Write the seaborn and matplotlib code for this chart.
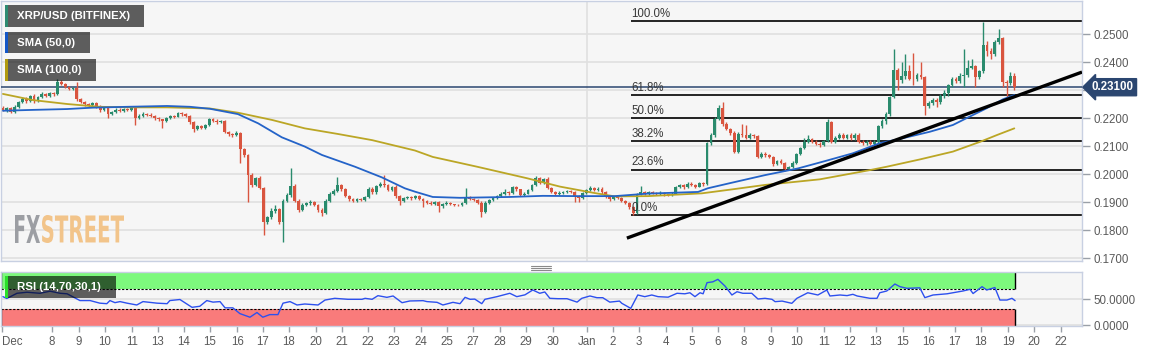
import numpy as np
import pandas as pd
import matplotlib
matplotlib.use('Agg')
import matplotlib.pyplot as plt
import matplotlib.transforms as mtransforms
import seaborn as sns
from matplotlib.patches import Rectangle, PathPatch
from matplotlib.lines import Line2D
from matplotlib.textpath import TextPath
from matplotlib.font_manager import FontProperties
from matplotlib.transforms import Affine2D

# ---- data (4h candles, XRP/USD) ----
open0 = 0.2236
closes = [
    0.2228, 0.2236, 0.2222, 0.2240, 0.2258, 0.2268,
    0.2262, 0.2278, 0.2260, 0.2275, 0.2286, 0.2280,
    0.2290, 0.2285, 0.2328, 0.2322, 0.2312, 0.2305,
    0.2306, 0.2268, 0.2258, 0.2250, 0.2245, 0.2252,
    0.2240, 0.2228, 0.2236, 0.2215, 0.2222, 0.2230,
    0.2225, 0.2232, 0.2228, 0.2236, 0.2200, 0.2208,
    0.2215, 0.2212, 0.2208, 0.2200, 0.2195, 0.2188,
    0.2200, 0.2208, 0.2205, 0.2218, 0.2214, 0.2208,
    0.2185, 0.2160, 0.2170, 0.2165, 0.2176, 0.2195,
    0.2190, 0.2186, 0.2190, 0.2150, 0.2142, 0.2140,
    0.2148, 0.2090, 0.2068, 0.1998, 0.1962, 0.1985,
    0.1950, 0.1828, 0.1845, 0.1868, 0.1875, 0.1828,
    0.1905, 0.1925, 0.1958, 0.1905, 0.1872, 0.1890,
    0.1895, 0.1900, 0.1888, 0.1872, 0.1862, 0.1905,
    0.1930, 0.1940, 0.1960, 0.1945, 0.1922, 0.1912,
    0.1905, 0.1912, 0.1908, 0.1918, 0.1948, 0.1935,
    0.1958, 0.1966, 0.1960, 0.1942, 0.1952, 0.1920,
    0.1905, 0.1915, 0.1918, 0.1914, 0.1920, 0.1910,
    0.1902, 0.1898, 0.1893, 0.1900, 0.1885, 0.1892,
    0.1897, 0.1892, 0.1890, 0.1888, 0.1896, 0.1918,
    0.1912, 0.1906, 0.1898, 0.1864, 0.1898, 0.1908,
    0.1915, 0.1922, 0.1930, 0.1935, 0.1932, 0.1952,
    0.1945, 0.1925, 0.1930, 0.1942, 0.1960, 0.1985,
    0.1968, 0.1982, 0.1950, 0.1936, 0.1930, 0.1933,
    0.1936, 0.1940, 0.1936, 0.1920, 0.1914, 0.1932,
    0.1942, 0.1950, 0.1943, 0.1948, 0.1935, 0.1920,
    0.1910, 0.1918, 0.1914, 0.1905, 0.1898, 0.1882,
    0.1862, 0.1928, 0.1936, 0.1930, 0.1936, 0.1932,
    0.1930, 0.1933, 0.1927, 0.1925, 0.1930, 0.1954,
    0.1960, 0.1952, 0.1966, 0.1960, 0.1955, 0.1968,
    0.1964, 0.2111, 0.2140, 0.2198, 0.2236, 0.2178,
    0.2160, 0.2148, 0.2080, 0.2144, 0.2138, 0.2130,
    0.2140, 0.2134, 0.2062, 0.2072, 0.2068, 0.2062,
    0.2036, 0.2046, 0.2038, 0.2018, 0.2024, 0.2040,
    0.2072, 0.2094, 0.2114, 0.2125, 0.2116, 0.2108,
    0.2104, 0.2118, 0.2184, 0.2116, 0.2130, 0.2140,
    0.2130, 0.2140, 0.2127, 0.2140, 0.2116, 0.2110,
    0.2116, 0.2108, 0.2116, 0.2172, 0.2190, 0.2215,
    0.2276, 0.2370, 0.2336, 0.2350, 0.2368, 0.2340,
    0.2338, 0.2355, 0.2346, 0.2242, 0.2254, 0.2264,
    0.2256, 0.2278, 0.2290, 0.2318, 0.2340, 0.2332,
    0.2350, 0.2352, 0.2380, 0.2384, 0.2345, 0.2368,
    0.2462, 0.2440, 0.2428, 0.2470, 0.2484, 0.2330,
    0.2324, 0.2350, 0.2310,
]
highs = [
    0.2242, 0.2240, 0.2240, 0.2246, 0.2262, 0.2275,
    0.2274, 0.2282, 0.2284, 0.2280, 0.2292, 0.2290,
    0.2294, 0.2293, 0.2339, 0.2334, 0.2326, 0.2316,
    0.2312, 0.2328, 0.2272, 0.2262, 0.2254, 0.2258,
    0.2256, 0.2245, 0.2240, 0.2240, 0.2226, 0.2234,
    0.2234, 0.2236, 0.2236, 0.2240, 0.2240, 0.2214,
    0.2222, 0.2218, 0.2218, 0.2212, 0.2204, 0.2198,
    0.2204, 0.2212, 0.2212, 0.2222, 0.2222, 0.2218,
    0.2212, 0.2190, 0.2175, 0.2176, 0.2180, 0.2200,
    0.2200, 0.2196, 0.2194, 0.2194, 0.2154, 0.2148,
    0.2155, 0.2150, 0.2094, 0.2072, 0.2004, 0.1990,
    0.1992, 0.1955, 0.1850, 0.1878, 0.1890, 0.1880,
    0.1910, 0.1932, 0.2021, 0.1965, 0.1910, 0.1896,
    0.1900, 0.1906, 0.1904, 0.1892, 0.1878, 0.1910,
    0.1935, 0.1948, 0.1989, 0.1965, 0.1950, 0.1926,
    0.1916, 0.1916, 0.1916, 0.1922, 0.1954, 0.1952,
    0.1962, 0.1972, 0.1996, 0.1964, 0.1956, 0.1960,
    0.1924, 0.1918, 0.1922, 0.1922, 0.1925, 0.1924,
    0.1914, 0.1906, 0.1902, 0.1904, 0.1904, 0.1896,
    0.1902, 0.1900, 0.1894, 0.1893, 0.1900, 0.1950,
    0.1922, 0.1916, 0.1910, 0.1902, 0.1902, 0.1912,
    0.1918, 0.1926, 0.1936, 0.1946, 0.1940, 0.1956,
    0.1956, 0.1948, 0.1934, 0.1946, 0.1964, 0.1992,
    0.1990, 0.1986, 0.1988, 0.1954, 0.1940, 0.1938,
    0.1940, 0.1944, 0.1944, 0.1940, 0.1924, 0.1936,
    0.1946, 0.1957, 0.1954, 0.1954, 0.1952, 0.1938,
    0.1924, 0.1922, 0.1922, 0.1918, 0.1908, 0.1900,
    0.1886, 0.1932, 0.1957, 0.1940, 0.1940, 0.1940,
    0.1936, 0.1938, 0.1936, 0.1930, 0.1934, 0.1958,
    0.1964, 0.1964, 0.1970, 0.1970, 0.1964, 0.1972,
    0.1972, 0.2115, 0.2146, 0.2204, 0.2246, 0.2257,
    0.2186, 0.2164, 0.2152, 0.2150, 0.2180, 0.2175,
    0.2146, 0.2142, 0.2140, 0.2078, 0.2078, 0.2072,
    0.2066, 0.2050, 0.2052, 0.2044, 0.2030, 0.2045,
    0.2076, 0.2098, 0.2128, 0.2138, 0.2130, 0.2120,
    0.2114, 0.2122, 0.2196, 0.2190, 0.2136, 0.2146,
    0.2145, 0.2144, 0.2146, 0.2146, 0.2146, 0.2120,
    0.2120, 0.2120, 0.2122, 0.2176, 0.2196, 0.2222,
    0.2280, 0.2446, 0.2378, 0.2400, 0.2428, 0.2390,
    0.2432, 0.2362, 0.2400, 0.2350, 0.2262, 0.2272,
    0.2270, 0.2286, 0.2300, 0.2322, 0.2346, 0.2346,
    0.2360, 0.2446, 0.2407, 0.2410, 0.2390, 0.2372,
    0.2543, 0.2476, 0.2450, 0.2480, 0.2518, 0.2490,
    0.2334, 0.2364, 0.2362,
]
lows = [
    0.2224, 0.2222, 0.2218, 0.2219, 0.2236, 0.2252,
    0.2255, 0.2258, 0.2254, 0.2256, 0.2270, 0.2276,
    0.2276, 0.2280, 0.2282, 0.2318, 0.2308, 0.2300,
    0.2300, 0.2262, 0.2252, 0.2244, 0.2238, 0.2240,
    0.2236, 0.2222, 0.2224, 0.2200, 0.2210, 0.2218,
    0.2220, 0.2220, 0.2224, 0.2225, 0.2175, 0.2196,
    0.2204, 0.2206, 0.2202, 0.2194, 0.2190, 0.2164,
    0.2184, 0.2196, 0.2200, 0.2202, 0.2208, 0.2204,
    0.2180, 0.2150, 0.2156, 0.2160, 0.2160, 0.2172,
    0.2186, 0.2180, 0.2182, 0.2145, 0.2136, 0.2132,
    0.2134, 0.2039, 0.2060, 0.1900, 0.1955, 0.1958,
    0.1945, 0.1782, 0.1822, 0.1838, 0.1860, 0.1822,
    0.1757, 0.1900, 0.1918, 0.1900, 0.1865, 0.1868,
    0.1884, 0.1890, 0.1884, 0.1866, 0.1850, 0.1858,
    0.1900, 0.1925, 0.1936, 0.1940, 0.1918, 0.1905,
    0.1900, 0.1900, 0.1904, 0.1904, 0.1914, 0.1930,
    0.1930, 0.1954, 0.1955, 0.1938, 0.1938, 0.1915,
    0.1889, 0.1900, 0.1910, 0.1908, 0.1910, 0.1906,
    0.1882, 0.1894, 0.1888, 0.1888, 0.1864, 0.1880,
    0.1888, 0.1888, 0.1886, 0.1884, 0.1884, 0.1892,
    0.1908, 0.1902, 0.1894, 0.1846, 0.1860, 0.1894,
    0.1904, 0.1912, 0.1918, 0.1926, 0.1925, 0.1928,
    0.1940, 0.1920, 0.1922, 0.1928, 0.1938, 0.1956,
    0.1964, 0.1964, 0.1946, 0.1932, 0.1926, 0.1926,
    0.1928, 0.1932, 0.1932, 0.1900, 0.1900, 0.1910,
    0.1928, 0.1938, 0.1938, 0.1938, 0.1930, 0.1915,
    0.1905, 0.1906, 0.1910, 0.1900, 0.1892, 0.1876,
    0.1854, 0.1858, 0.1924, 0.1926, 0.1926, 0.1928,
    0.1925, 0.1926, 0.1922, 0.1920, 0.1922, 0.1928,
    0.1950, 0.1948, 0.1950, 0.1956, 0.1950, 0.1952,
    0.1958, 0.1960, 0.2105, 0.2132, 0.2194, 0.2172,
    0.2156, 0.2140, 0.2074, 0.2076, 0.2132, 0.2126,
    0.2126, 0.2130, 0.2058, 0.2056, 0.2062, 0.2056,
    0.2030, 0.2032, 0.2034, 0.2010, 0.2014, 0.2020,
    0.2036, 0.2068, 0.2090, 0.2110, 0.2110, 0.2102,
    0.2098, 0.2100, 0.2114, 0.2110, 0.2112, 0.2126,
    0.2124, 0.2126, 0.2122, 0.2122, 0.2110, 0.2104,
    0.2104, 0.2102, 0.2104, 0.2110, 0.2164, 0.2180,
    0.2208, 0.2270, 0.2300, 0.2325, 0.2340, 0.2334,
    0.2318, 0.2332, 0.2340, 0.2211, 0.2236, 0.2248,
    0.2240, 0.2250, 0.2272, 0.2280, 0.2312, 0.2326,
    0.2326, 0.2310, 0.2346, 0.2374, 0.2310, 0.2340,
    0.2360, 0.2420, 0.2410, 0.2422, 0.2465, 0.2310,
    0.2271, 0.2318, 0.2300,
]

# moving averages (candle index, price)
sma50_t = [0, 7.7, 16.5, 23.1, 31.9, 42.2, 48.1, 53.2, 60.4, 65.6, 71.7, 77.6, 82.0,
           90.5, 97.4, 103.3, 105.9, 110.5, 117.5, 130.3, 138.8, 147.6, 157.3, 165.8,
           178.7, 181.2, 187.4, 195.9, 204.4, 211.3, 218.5, 225.4, 231.4, 238.3, 244.2,
           249.4, 252.9, 257.1, 260]
sma50_v = [0.2226, 0.2229, 0.2232, 0.2237, 0.2240, 0.2243, 0.2240, 0.2233, 0.2214, 0.2181,
           0.2131, 0.2098, 0.2068, 0.2026, 0.1988, 0.1949, 0.1937, 0.1918, 0.1915, 0.1918,
           0.1922, 0.1921, 0.1921, 0.1930, 0.1936, 0.1949, 0.1969, 0.1996, 0.2020, 0.2046,
           0.2074, 0.2110, 0.2128, 0.2151, 0.2175, 0.2211, 0.2235, 0.2267, 0.2282]
sma100_t = [0, 7.7, 16.5, 24.9, 33.4, 42.2, 53.2, 60.4, 69.2, 77.6, 86.1, 94.9, 105.9,
            110.5, 121.9, 134.7, 143.2, 151.7, 157.3, 165.8, 179.7, 187.4, 195.9, 204.4,
            210.0, 222.9, 227.2, 235.7, 244.2, 251.2, 255.5, 260]
sma100_v = [0.2286, 0.2264, 0.2250, 0.2240, 0.2238, 0.2238, 0.2234, 0.2219, 0.2193, 0.2163,
            0.2143, 0.2121, 0.2084, 0.2061, 0.2026, 0.1985, 0.1955, 0.1933, 0.1920, 0.1921,
            0.1931, 0.1945, 0.1961, 0.1973, 0.1981, 0.2014, 0.2026, 0.2052, 0.2080, 0.2115,
            0.2139, 0.2163]

# RSI(14)
rsi_t = [0, 1.0, 3.6, 6.2, 9.5, 12.1, 14.7, 16.5, 19.8, 22.4,
         24.9, 26.7, 27.5, 28.8, 30.1, 31.9, 34.4, 36.0, 39.6, 42.2,
         42.9, 45.5, 48.6, 50.6, 52.4, 54.0, 55.8, 57.1, 59.1, 60.9,
         63.5, 65.3, 66.8, 68.6, 70.7, 72.0, 73.8, 75.6, 77.6, 81.0,
         82.8, 85.3, 88.7, 92.3, 93.1, 94.9, 96.4, 98.7, 100.3, 102.6,
         104.6, 108.0, 109.0, 111.6, 113.1, 115.7, 117.5, 118.8, 120.1, 121.3,
         123.1, 123.9, 127.0, 130.3, 132.1, 134.2, 136.2, 138.0, 139.3, 140.6,
         142.7, 145.0, 147.6, 148.8, 150.9, 152.7, 154.2, 156.0, 158.5, 159.1,
         161.4, 163.2, 165.0, 166.8, 168.4, 171.0, 173.3, 175.3, 176.6, 177.9,
         179.2, 180.0, 181.0, 182.5, 183.8, 185.6, 187.4, 188.7, 190.2, 192.5,
         194.1, 195.9, 197.7, 198.5, 200.3, 202.8, 204.1, 206.9, 209.5, 211.8,
         212.6, 215.2, 217.0, 218.5, 219.6, 222.9, 224.7, 225.4, 227.2, 229.3,
         230.6, 232.4, 235.7, 237.0, 239.1, 242.7, 244.2, 246.8, 248.6, 249.4,
         251.7, 252.9, 255.0, 256.3, 258.1, 259.4, 260.2]
rsi_v = [54.5, 51, 61, 63, 61, 65, 61, 60, 47, 47,
         42, 41, 47, 43, 45, 42, 38.5, 45, 42, 41,
         47, 49, 34, 36, 47, 44, 45, 33, 33, 22,
         15, 24, 15, 20, 20, 42, 45, 38.5, 40.4, 38.5,
         48, 51.3, 49.4, 49.4, 51.3, 49.4, 56.4, 53.2, 55.8, 42.9,
         46.2, 46.8, 45, 43.6, 38.5, 43.6, 41, 53.2, 49.4, 49.8,
         41, 49.4, 54.5, 61, 54.5, 58, 67.3, 61, 63.5, 51.3,
         50.6, 50.6, 44, 51.3, 55.8, 52.5, 52.5, 44, 46, 41.7,
         32, 57.7, 54.5, 57.7, 54.5, 53.5, 61, 60, 62, 54.5,
         62, 60, 81.4, 83, 87.8, 75, 57.7, 64, 61, 61,
         50, 51.3, 49.4, 44.9, 46, 41.7, 51.3, 62, 57.7, 67.3,
         55.8, 57.7, 56.5, 59, 55.8, 51.3, 51.3, 62, 65.4, 78.8,
         73.7, 70.5, 71.5, 52.6, 57.7, 60, 62, 65.4, 68.6, 60.5,
         73.7, 67.3, 72, 48, 48, 51.3, 46.8]

# fibonacci retracement between swing low and swing high
fib_low, fib_high = 0.1852, 0.2546
fib_ratios = [0.0, 0.236, 0.382, 0.5, 0.618, 1.0]
fib_start = 161.4
# hand drawn trend line (two anchors)
trend_t = [160.4, 277.4]
trend_v = [0.1771, 0.2364]

price_ticks = [0.17, 0.18, 0.19, 0.20, 0.21, 0.22, 0.23, 0.24, 0.25]
date_ticks = [-0.3, 12.6, 19.5, 26.2, 33.2, 39.8, 46.5, 53.2, 60.2, 66.8, 73.5, 80.5,
              87.1, 93.8, 100.5, 107.5, 114.1, 120.8, 127.8, 134.4, 141.4, 150.1,
              156.8, 163.5, 170.4, 177.1, 183.8, 190.5, 197.4, 204.1, 211.1, 217.7,
              224.4, 231.4, 238.0, 244.7, 251.4, 258.4, 265.0, 272.0]
date_labels = ['Dec', '8', '9', '10', '11', '13', '14', '15', '16', '17', '18', '20',
               '21', '22', '23', '24', '25', '27', '28', '29', '30', 'Jan',
               '2', '3', '4', '5', '6', '8', '9', '10', '11', '12',
               '13', '15', '16', '17', '18', '19', '20', '22']
legend_labels = ['XRP/USD (BITFINEX)', 'SMA (50,0)', 'SMA (100,0)']

# ---- style ----
GREEN = '#2A8B6D'
RED = '#D9553F'
BLUE = '#2463C8'
OLIVE = '#BBA625'
NAVY = '#2B4670'
GRID = '#E0E0E0'
SPINE = '#C8D0E2'
TXT = '#5A5A5A'

sns.set_theme(style='white')
plt.rcParams['font.family'] = ['Liberation Sans', 'DejaVu Sans']

W, H = 1153, 352
def fx(px):
    return px / W
def fy(py):
    return 1 - py / H

fig = plt.figure(figsize=(W / 100, H / 100), dpi=100, facecolor='white')
ax = fig.add_axes([fx(1), fy(261), fx(1082) - fx(1), 260 / H])
ax2 = fig.add_axes([fx(1), fy(326), fx(1082) - fx(1), 54 / H])

x_left, x_right = -0.5, 277.4

df = pd.DataFrame({'close': closes, 'high': highs, 'low': lows})
df['open'] = [open0] + closes[:-1]
df['t'] = np.arange(len(df))
up = df['close'] >= df['open']
cols = np.where(up, GREEN, RED)

ax.set_facecolor('#F6F6F6')
ax.vlines(df['t'], df['low'], df['high'], colors=cols, lw=1, zorder=3)
body = (df['close'] - df['open']).abs().clip(lower=0.00015)
ax.bar(df['t'], body, bottom=df[['open', 'close']].min(axis=1), width=0.72,
       color=cols, lw=0, zorder=4)

sns.lineplot(x=sma100_t, y=sma100_v, ax=ax, color=OLIVE, lw=1.3, zorder=5)
sns.lineplot(x=sma50_t, y=sma50_v, ax=ax, color=BLUE, lw=1.3, zorder=5)

last = closes[-1]
ax.axhline(last, color=NAVY, lw=1.1, zorder=2.6)

for r in fib_ratios:
    lvl = fib_low + r * (fib_high - fib_low)
    ax.hlines(lvl, fib_start, x_right, color='black', lw=1.2, zorder=2.5)
    ax.text(fib_start + 0.2, lvl + 0.0004, f'{r * 100:.1f}%', fontsize=8.3,
            color='#383838', ha='left', va='bottom', zorder=7)

ax.plot(trend_t, trend_v, color='black', lw=2.4, zorder=6, solid_capstyle='butt')

jan_t = date_ticks[date_labels.index('Jan')]
ax.axvline(jan_t, color=GRID, lw=1.2, zorder=1)

ax.set_xlim(x_left, x_right)
ax.set_ylim(0.16893, 0.26179)
ax.set_yticks(price_ticks)
# the 0.2300 label sits under the last-price tag
ax.set_yticklabels(['' if abs(v - round(last, 2)) < 1e-9 else f'{v:.4f}' for v in price_ticks])
ax.yaxis.tick_right()
ax.tick_params(axis='y', right=True, left=False, length=6, width=1, color='#9AA0A8',
               labelcolor=TXT, labelsize=8.3, pad=2)
ax.tick_params(axis='x', bottom=False, labelbottom=False)
ax.grid(axis='y', color=GRID, lw=1.2)
ax.set_axisbelow(True)
ax.set_xlabel('')
ax.set_ylabel('')
for sp in ax.spines.values():
    sp.set_color(SPINE)
    sp.set_linewidth(1)

trans = mtransforms.blended_transform_factory(ax.transAxes, ax.transData)
ax.text(1.0 + 10 / 1081, last, f'{last:.5f}', transform=trans, ha='left', va='center',
        fontsize=8.3, fontweight='bold', color='white', clip_on=False, zorder=10,
        bbox=dict(boxstyle='larrow,pad=0.22', fc=NAVY, ec=NAVY))

# ---- RSI panel ----
ax2.set_facecolor('#F6F6F6')
band_end = len(closes) - 1 + 0.2
ax2.fill_between([x_left, band_end], 70, 104, color='#7DF97D', lw=0, zorder=1)
ax2.fill_between([x_left, band_end], -4, 30, color='#F97B7B', lw=0, zorder=1)
ax2.hlines([30, 70], x_left, band_end, colors='black', lw=0.8, linestyles=(0, (2, 1.5)), zorder=2)
ax2.vlines([x_left + 0.1, band_end], 70, 104, colors='black', lw=1, zorder=2)
ax2.vlines([x_left + 0.1, band_end], -4, 30, colors='black', lw=1, zorder=2)
ax2.axvline(jan_t, color=GRID, lw=1.2, zorder=0.5)
sns.lineplot(x=rsi_t, y=rsi_v, ax=ax2, color='#2D50EE', lw=1, zorder=3)

ax2.set_xlim(x_left, x_right)
ax2.set_ylim(-1.9, 101.9)
ax2.set_yticks([0, 50])
ax2.set_yticklabels(['0.0000', '50.0000'])
ax2.yaxis.tick_right()
ax2.tick_params(axis='y', right=True, left=False, length=6, width=1, color='#9AA0A8',
                labelcolor=TXT, labelsize=8.3, pad=2)
ax2.set_xticks(date_ticks)
ax2.set_xticklabels(date_labels)
ax2.tick_params(axis='x', bottom=True, length=4, width=1, color='#9AA0A8',
                labelcolor=TXT, labelsize=8.3, pad=3)
ax2.get_xticklabels()[0].set_ha('left')
ax2.grid(axis='y', color=GRID, lw=1.2)
ax2.set_axisbelow(True)
ax2.set_xlabel('')
ax2.set_ylabel('')
for sp in ax2.spines.values():
    sp.set_color(SPINE)
    sp.set_linewidth(1)

# ---- legend tags (top left) ----
def tag(label, strip, x0, y0, x1, y1):
    fig.add_artist(Rectangle((fx(x0), fy(y1)), fx(x1) - fx(x0), (y1 - y0) / H,
                             transform=fig.transFigure, fc='black', alpha=0.62, ec='none', zorder=20))
    fig.add_artist(Rectangle((fx(x0), fy(y1)), fx(2.6), (y1 - y0) / H,
                             transform=fig.transFigure, fc=strip, ec='none', zorder=21))
    fig.text(fx(x0 + 12), fy((y0 + y1) / 2), label, color='white', fontsize=8.2,
             fontweight='bold', ha='left', va='center', zorder=22)

tag(legend_labels[0], '#2E8B72', 5, 5, 144, 27)
tag(legend_labels[1], '#1457C8', 5, 32, 90, 53)
tag(legend_labels[2], '#B09A10', 5, 59, 96, 81)
tag('RSI (14,70,30,1)', '#2BE02B', 5, 276, 116, 298)

# ---- watermark ----
def word(text, x0, x1, ytop, ybot, color):
    tp = TextPath((0, 0), text, size=10, prop=FontProperties(family='DejaVu Sans', weight='bold'))
    ext = tp.get_extents()
    sx = (fx(x1) - fx(x0)) / ext.width
    sy = ((ybot - ytop) / H) / ext.height
    tr = Affine2D().translate(-ext.x0, -ext.y0).scale(sx, sy).translate(fx(x0), fy(ybot)) + fig.transFigure
    fig.add_artist(PathPatch(tp, transform=tr, fc=color, ec='none', zorder=1.5))

word('FX', 15, 40, 215, 243, '#9C9EA3')
word('STREET', 42, 124, 215, 243, '#F2C48A')

# panel resize handle
for yy in (266, 268, 270):
    fig.add_artist(Line2D([fx(531), fx(551)], [fy(yy), fy(yy)], color='#8A8A8A', lw=0.8))

fig.savefig('out.png', dpi=100)
